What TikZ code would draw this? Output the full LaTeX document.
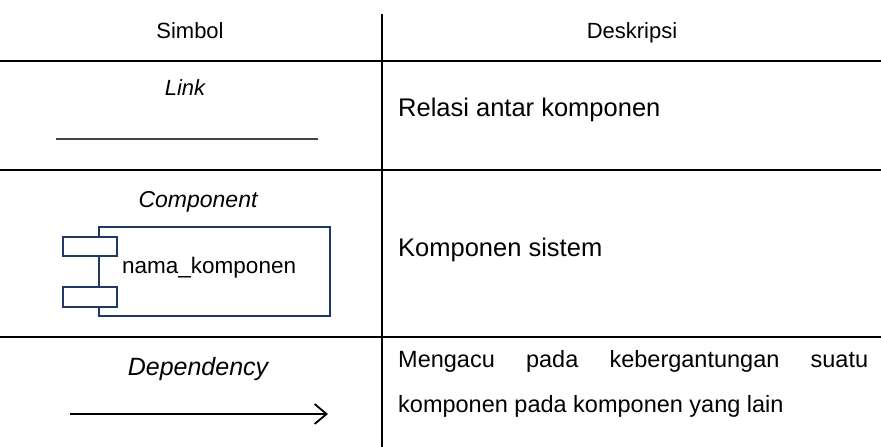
\documentclass[tikz,border=0pt]{standalone}
\usepackage{fontspec}
\setmainfont{Liberation Sans}
\usetikzlibrary{arrows.meta}
\definecolor{navy}{HTML}{1F3864}
\definecolor{linkgray}{HTML}{444444}
\begin{document}
\begin{tikzpicture}[x=1pt,y=-1pt,
  rule/.style={line width=2pt,black},
  head/.style={font=\fontsize{22}{26}\selectfont,anchor=mid},
  sym/.style={font=\fontsize{22}{26}\selectfont\itshape,anchor=mid},
  desc/.style={font=\fontsize{25.5}{30}\selectfont,anchor=mid west,inner sep=0pt},
  descsmall/.style={desc,font=\fontsize{23.5}{28}\selectfont},
  part/.style={line width=2pt,draw=navy,fill=white}]
\useasboundingbox (0,0) rectangle (881,447);
% table rules
\draw[rule] (382,14) -- (382,447);
\draw[rule] (0,61) -- (881,61);
\draw[rule] (0,170) -- (881,170);
\draw[rule] (0,337) -- (881,337);
% header
\node[head] (hsym) at (190,36) {Simbol};
\node[head] (hdesc) at (632,36) {Deskripsi};
% link row
\node[sym] (link) at (185,93) {Link};
\coordinate (la) at (56,139);
\coordinate (lb) at (318,139);
\draw[line width=1.4pt,linkgray] (la) -- (lb);
\node[desc] (dlink) at (398,114) {Relasi antar komponen};
% component row
\node[sym,font=\fontsize{23}{27}\selectfont\itshape] (comp) at (198,205) {Component};
\draw[part] (99,227) rectangle (330,316);
\draw[part] (63,237) rectangle (117,256);
\draw[part] (63,287) rectangle (117,307);
\node[desc,font=\fontsize{22.5}{26}\selectfont] (cname) at (122,271) {nama\_komponen};
\node[desc] (dcomp) at (398,254) {Komponen sistem};
% dependency row
\node[sym,font=\fontsize{25}{30}\selectfont\itshape] (dep) at (198,373) {Dependency};
\coordinate (da) at (70,414);
\coordinate (db) at (328,414);
\draw[line width=1.8pt,-{Straight Barb[length=12pt,width=20pt,line width=1.8pt]}] (da) -- (db);
\node[descsmall] (ddep1) at (398,365) {\makebox[470pt][s]{Mengacu pada kebergantungan suatu}};
\node[descsmall] (ddep2) at (398,410) {komponen pada komponen yang lain};
\end{tikzpicture}
\end{document}
